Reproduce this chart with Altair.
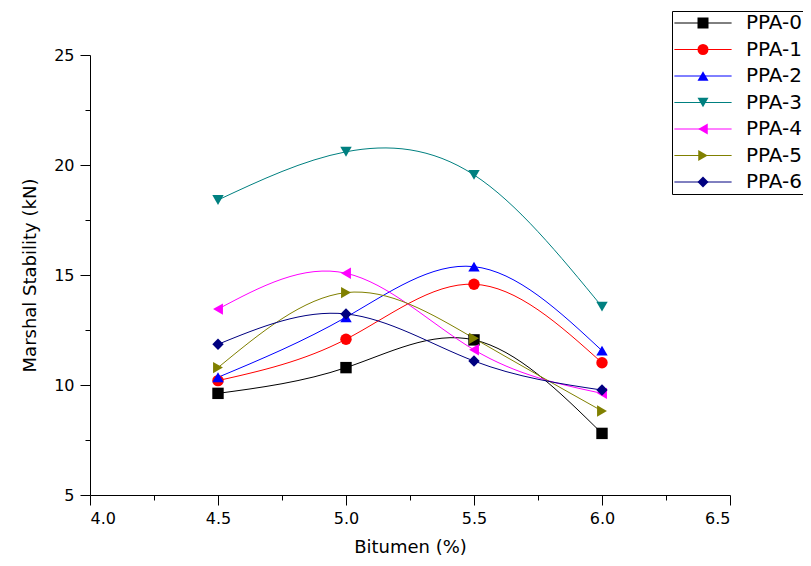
import altair as alt
import pandas as pd

bitumen = [4.5, 5.0, 5.5, 6.0]
series = ["PPA-0", "PPA-1", "PPA-2", "PPA-3", "PPA-4", "PPA-5", "PPA-6"]
ppa0 = [9.62, 10.79, 12.05, 7.80]
ppa1 = [10.20, 12.08, 14.58, 11.01]
ppa2 = [10.35, 13.08, 15.38, 11.56]
ppa3 = [18.41, 20.60, 19.55, 13.56]
ppa4 = [13.45, 15.08, 11.60, 9.62]
ppa5 = [10.79, 14.20, 12.12, 8.82]
ppa6 = [11.85, 13.23, 11.09, 9.77]
colors = ["#000000", "#FF0000", "#0000FF", "#008080", "#FF00FF", "#808000", "#000080"]
shapes = ["square", "circle", "triangle-up", "triangle-down", "triangle-left", "triangle-right", "diamond"]
x_ticks = [4.0, 4.25, 4.5, 4.75, 5.0, 5.25, 5.5, 5.75, 6.0, 6.25, 6.5]
y_ticks = [5, 7.5, 10, 12.5, 15, 17.5, 20, 22.5, 25]

values = [ppa0, ppa1, ppa2, ppa3, ppa4, ppa5, ppa6]
rows = []
for s, vals in zip(series, values):
    for b, v in zip(bitumen, vals):
        rows.append({"Bitumen": b, "Stability": v, "Series": s, "LineKey": "~" + s})
df = pd.DataFrame(rows)
line_keys = ["~" + s for s in series]

FONT = "DejaVu Sans"

x_enc = alt.X(
    "Bitumen:Q",
    title="Bitumen (%)",
    scale=alt.Scale(domain=[4.0, 6.5], nice=False, zero=False),
    axis=alt.Axis(
        values=x_ticks,
        labelExpr="datum.value % 0.5 == 0 ? format(datum.value, '.1f') : ''",
        tickSize={"condition": {"test": "datum.value % 0.5 != 0", "value": 5}, "value": 10},
        labelOverlap=False,
        labelPadding=5,
        titlePadding=12,
        grid=False,
    ),
)
y_enc = alt.Y(
    "Stability:Q",
    title="Marshal Stability (kN)",
    scale=alt.Scale(domain=[5, 25], nice=False, zero=False),
    axis=alt.Axis(
        values=y_ticks,
        labelExpr="datum.value % 5 == 0 ? format(datum.value, 'd') : ''",
        tickSize={"condition": {"test": "datum.value % 5 != 0", "value": 5}, "value": 10},
        labelOverlap=False,
        labelPadding=6,
        titlePadding=14,
        grid=False,
    ),
)

common_leg = dict(
    orient="none", legendX=582, legendY=-44, title=None,
    padding=2, symbolSize=121, symbolStrokeWidth=1, symbolOffset=19,
    labelOffset=33, labelFont=FONT, labelFontSize=20, labelColor="black",
    rowPadding=6.5,
)

# legend 1: the line part of each entry (with the frame)
line_leg = alt.Legend(
    symbolType="M-5.2,0L5.2,0", strokeColor="black", labelOpacity=0,
    labelExpr="slice(datum.label, 1)", **common_leg
)
# legend 2: the marker part of each entry, with the labels
mark_leg = alt.Legend(symbolOpacity=1, **common_leg)

lines = alt.Chart(df).mark_line(interpolate="natural", strokeWidth=1).encode(
    x=x_enc,
    y=y_enc,
    stroke=alt.Stroke("LineKey:N", scale=alt.Scale(domain=line_keys, range=colors), legend=line_leg),
    detail="Series:N",
)

points = alt.Chart(df).mark_point(filled=True, size=130, opacity=1).encode(
    x=x_enc,
    y=y_enc,
    color=alt.Color("Series:N", scale=alt.Scale(domain=series, range=colors), legend=mark_leg),
    shape=alt.Shape("Series:N", scale=alt.Scale(domain=series, range=shapes), legend=mark_leg),
)

chart = alt.layer(lines, points).properties(
    width=640,
    height=440,
    background="white",
    autosize=alt.AutoSizeParams(type="none"),
    padding={"left": 82, "top": 47, "right": 73, "bottom": 63},
).configure_view(stroke=None).configure_axis(
    domainColor="black", domainWidth=1, tickColor="black", tickWidth=1,
    labelColor="black", titleColor="black", labelFont=FONT, titleFont=FONT,
    labelFontSize=16, titleFontSize=18, titleFontWeight="normal", grid=False,
)

chart.save("out.html", embed_options={"renderer": "svg", "actions": False})
